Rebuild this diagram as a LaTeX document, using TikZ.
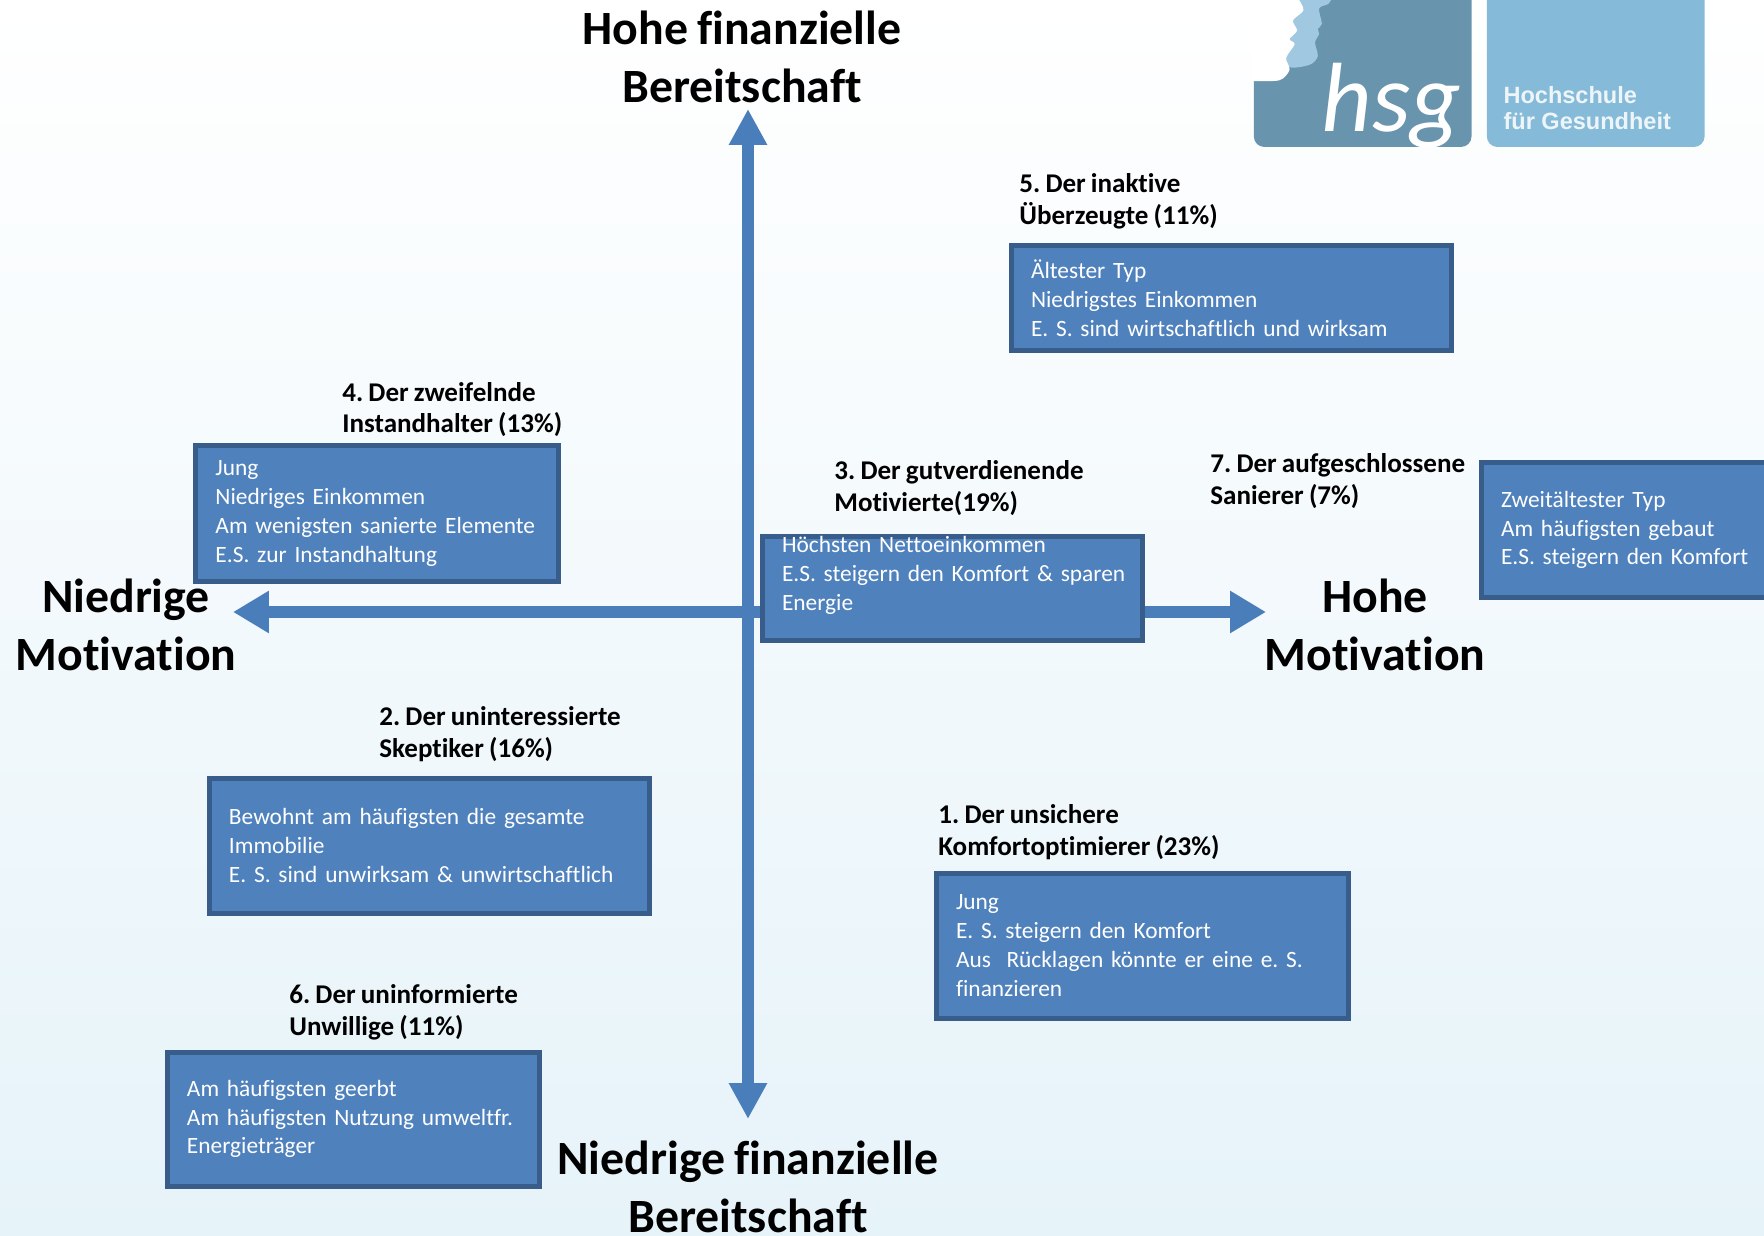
\documentclass[tikz,border=0pt]{standalone}
\usepackage{fontspec}
\setmainfont{Carlito}[Ligatures=NoCommon, WordSpace=0.85]
\newfontfamily\logofont{Liberation Sans}
\usetikzlibrary{arrows.meta}
\frenchspacing

\definecolor{axisblue}{HTML}{4A7EBB}
\definecolor{boxfill}{HTML}{4F81BD}
\definecolor{boxline}{HTML}{385D8A}
\definecolor{logodark}{HTML}{6994AD}
\definecolor{logolight}{HTML}{85BBD8}
\definecolor{logoface}{HTML}{A0C9E1}
\definecolor{bgblue}{HTML}{E6F3F9}

\tikzset{
  axisline/.style={line width=0.24cm, axisblue, {Triangle[width=#1, length=0.72cm]}-{Triangle[width=#1, length=0.72cm]}},
  axistitle/.style={font=\fontsize{27.2}{33}\selectfont\bfseries, align=center, inner sep=0pt, black},
  typelabel/.style={font=\fontsize{15.4}{18.1}\selectfont\bfseries, align=left, anchor=west, inner sep=0pt, black},
  infobox/.style 2 args={draw=boxline, fill=boxfill, line width=0.1cm, text=white,
    minimum width=#1*0.02cm-0.08cm, minimum height=#2*0.02cm-0.08cm, text width=#1*0.02cm-0.88cm,
    inner xsep=0.37cm, inner ysep=0pt, align=left, font=\fontsize{13.3}{16.4}\selectfont},
}

\begin{document}
\begin{tikzpicture}[x=0.02cm, y=-0.02cm]
\useasboundingbox (0,0) rectangle (1764,1236);

% Background
\shade[top color=white, bottom color=bgblue] (0,0) rectangle (1764,1236);

% Logo
\begin{scope}[shift={(1230,0)}, x=0.00681cm, y=-0.00681cm]
\fill[logodark, rounded corners=6pt] (70,-40) rectangle (710,432);
\fill[logolight, rounded corners=6pt] (755,-40) rectangle (1395,432);
\fill[logoface] plot[smooth, tension=0.5] coordinates {(300,-5) (288,12) (262,25) (270,70) (258,85) (262,100) (250,125)
  (258,165) (235,190) (175,197) (160,150)} -- (180,-5) -- cycle;
\fill[white] (60,-5) -- plot[smooth, tension=0.5] coordinates {(200,-5) (216,30) (185,60) (197,90) (175,115) (190,130)
  (165,170) (175,205) (145,236) (60,238)} -- cycle;
\begin{scope}
\clip[rounded corners=6pt] (70,-40) rectangle (710,432);
\node[white, anchor=base west, inner sep=0pt, font=\fontsize{56}{60}\selectfont\itshape] (logohsg) at (268,388) {hsg};
\end{scope}
\node[anchor=west, inner sep=0pt, align=left, text=white!85!logolight, font=\logofont\fontsize{13.4}{14.6}\selectfont\bfseries] (logoname) at (803,318) {Hochschule\\für Gesundheit};
\end{scope}

% Axes
\coordinate (topend) at (748,109);
\coordinate (bottomend) at (748,1119);
\coordinate (leftend) at (233,612);
\coordinate (rightend) at (1266,612);
\draw[axisline=0.72cm] (bottomend) -- (topend);
\draw[axisline=0.8cm] (leftend) -- (rightend);

% Axis titles
\node[axistitle] (hohefin) at (742,57) {Hohe finanzielle\\Bereitschaft};
\node[axistitle] (niedrigefin) at (748,1187) {Niedrige finanzielle\\Bereitschaft};
\node[axistitle] (niedrigemot) at (126,625) {Niedrige\\Motivation};
\node[axistitle] (hohemot) at (1375,625) {Hohe\\Motivation};

% Type 5
\node[typelabel] (label5) at (1019,201.5) {5. Der inaktive\\Überzeugte (11\%)};
\node[infobox={444}{109}] (box5) at (1231,298.5) {Ältester Typ\\Niedrigstes Einkommen\\E. S. sind wirtschaftlich und wirksam};

% Type 4
\node[typelabel] (label4) at (342,409.5) {4. Der zweifelnde\\Instandhalter (13\%)};
\node[infobox={367}{139}] (box4) at (377,513.5) {Jung\\Niedriges Einkommen\\\mbox{Am wenigsten sanierte Elemente}\\E.S. zur Instandhaltung};

% Type 3
\node[typelabel] (label3) at (834,488) {3. Der gutverdienende\\Motivierte(19\%)};
\node[infobox={384}{108}] (box3) at (952,588) {Höchsten Nettoeinkommen\\\mbox{E.S. steigern den Komfort \& sparen}\\Energie\\~};

% Type 7
\node[typelabel] (label7) at (1210,481) {7. Der aufgeschlossene\\Sanierer (7\%)};
\node[infobox={293}{139}] (box7) at (1625.5,530) {Zweitältester Typ\\Am häufigsten gebaut\\\mbox{E.S. steigern den Komfort}};

% Type 2
\node[typelabel] (label2) at (379,734) {2. Der uninteressierte\\Skeptiker (16\%)};
\node[infobox={444}{139}] (box2) at (429,845.5) {Bewohnt am häufigsten die gesamte\\Immobilie\\\mbox{E. S. sind unwirksam \& unwirtschaftlich}};

% Type 1
\node[typelabel] (label1) at (938,832) {1. Der unsichere\\Komfortoptimierer (23\%)};
\node[infobox={416}{149}] (box1) at (1142,945.5) {Jung\\E. S. steigern den Komfort\\\mbox{Aus\ \ Rücklagen könnte er eine e. S.}\\finanzieren};

% Type 6
\node[typelabel] (label6) at (289,1012) {6. Der uninformierte\\Unwillige (11\%)};
\node[infobox={376}{138}] (box6) at (353,1119) {Am häufigsten geerbt\\\mbox{Am häufigsten Nutzung umweltfr.}\\Energieträger};
\end{tikzpicture}
\end{document}
